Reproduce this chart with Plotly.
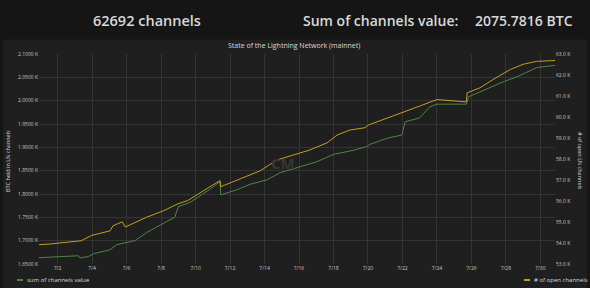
import plotly.graph_objects as go

# ---------------- data ----------------
value_dates = ["2021-06-30 22:00", "2021-07-01 13:00", "2021-07-03 05:00", "2021-07-03 07:00", "2021-07-03 19:00",
               "2021-07-04 02:00", "2021-07-05 01:00", "2021-07-05 10:00", "2021-07-06 12:00", "2021-07-07 04:00",
               "2021-07-08 03:00", "2021-07-08 19:00", "2021-07-09 00:00", "2021-07-09 16:00", "2021-07-10 20:00",
               "2021-07-11 10:00", "2021-07-11 11:00", "2021-07-12 09:00", "2021-07-13 04:00", "2021-07-14 03:00",
               "2021-07-14 22:00", "2021-07-16 01:00", "2021-07-17 01:00", "2021-07-18 00:00", "2021-07-18 23:00",
               "2021-07-19 22:00", "2021-07-20 03:00", "2021-07-20 17:00", "2021-07-21 02:00", "2021-07-21 23:00",
               "2021-07-22 04:00", "2021-07-23 00:00", "2021-07-23 14:00", "2021-07-24 00:00", "2021-07-25 17:00",
               "2021-07-25 20:00", "2021-07-26 17:00", "2021-07-27 20:00", "2021-07-28 15:00", "2021-07-29 19:00",
               "2021-07-30 20:24"]
sum_channels_value = [1663.5, 1664.9, 1667.7, 1662.8, 1666.2, 1672.0, 1680.5, 1691.2, 1700.4, 1717.5,
                      1737.6, 1750.4, 1773.1, 1781.6, 1810.2, 1826.5, 1798.1, 1808.8, 1820.9, 1830.1,
                      1845.7, 1858.5, 1869.2, 1885.0, 1892.1, 1901.3, 1906.4, 1914.1, 1919.2, 1926.3,
                      1954.7, 1963.2, 1986.7, 1992.5, 1992.5, 2008.1, 2022.4, 2040.2, 2050.9, 2070.9,
                      2075.8]

channel_dates = ["2021-06-30 22:00", "2021-07-01 13:00", "2021-07-03 09:00", "2021-07-03 23:00", "2021-07-05 01:00",
                 "2021-07-05 05:00", "2021-07-05 18:00", "2021-07-05 22:00", "2021-07-07 04:00", "2021-07-08 03:00",
                 "2021-07-08 23:00", "2021-07-09 13:00", "2021-07-10 20:00", "2021-07-11 10:00", "2021-07-11 11:00",
                 "2021-07-12 18:00", "2021-07-13 18:00", "2021-07-14 17:00", "2021-07-15 16:00", "2021-07-16 15:00",
                 "2021-07-17 15:00", "2021-07-18 05:00", "2021-07-18 23:00", "2021-07-19 20:00", "2021-07-20 00:00",
                 "2021-07-21 02:00", "2021-07-22 01:00", "2021-07-23 00:00", "2021-07-24 00:00", "2021-07-25 17:00",
                 "2021-07-25 18:00", "2021-07-26 12:00", "2021-07-27 06:00", "2021-07-28 06:00", "2021-07-29 00:00",
                 "2021-07-29 19:00", "2021-07-30 20:24"]
open_channels = [53920, 53950, 54110, 54360, 54580, 54820, 55010, 54760, 55230, 55530,
                 55860, 56020, 56680, 56970, 56680, 57110, 57440, 57950, 58190, 58430,
                 58770, 59140, 59380, 59490, 59610, 59930, 60200, 60520, 60830, 60720,
                 61150, 61390, 61780, 62260, 62510, 62650, 62692]

x_tick_vals = ["2021-07-02", "2021-07-04", "2021-07-06", "2021-07-08", "2021-07-10", "2021-07-12", "2021-07-14",
               "2021-07-16", "2021-07-18", "2021-07-20", "2021-07-22", "2021-07-24", "2021-07-26", "2021-07-28",
               "2021-07-30"]
x_tick_text = ["7/2", "7/4", "7/6", "7/8", "7/10", "7/12", "7/14", "7/16", "7/18", "7/20", "7/22", "7/24",
               "7/26", "7/28", "7/30"]
left_tick_vals = [1650, 1700, 1750, 1800, 1850, 1900, 1950, 2000, 2050, 2100]
left_tick_text = ["1.6500 K", "1.7000 K", "1.7500 K", "1.8000 K", "1.8500 K", "1.9000 K", "1.9500 K",
                  "2.0000 K", "2.0500 K", "2.1000 K"]
right_tick_vals = [53000, 54000, 55000, 56000, 57000, 58000, 59000, 60000, 61000, 62000, 63000]
right_tick_text = ["53.0 K", "54.0 K", "55.0 K", "56.0 K", "57.0 K", "58.0 K", "59.0 K", "60.0 K",
                   "61.0 K", "62.0 K", "63.0 K"]

channel_count = 62692
total_value_btc = 2075.7816

# ---------------- layout helpers ----------------
W, H = 590, 288
ML, MR, MT, MB = 39, 35, 54, 24
PW, PH = W - ML - MR, H - MT - MB


def xp(px):
    return (px - ML) / PW


def yp(py):
    return (H - MB - py) / PH


GREEN = "#4f8542"
YELLOW = "#c49e22"
TEXT = "#d8d9da"
TICK = "#c4c4c4"
FONT = "Open Sans"

fig = go.Figure()
fig.add_trace(go.Scatter(x=value_dates, y=sum_channels_value, mode="lines", name="sum of channels value",
                         line=dict(color=GREEN, width=1), yaxis="y", showlegend=False))
fig.add_trace(go.Scatter(x=channel_dates, y=open_channels, mode="lines", name="# of open channels",
                         line=dict(color=YELLOW, width=1), yaxis="y2", showlegend=False))

shapes = [
    dict(type="rect", xref="paper", yref="paper", x0=xp(3), x1=xp(587), y0=yp(H + 2), y1=yp(39.5),
         fillcolor="#1f1f20", line=dict(width=0), layer="below"),
    dict(type="line", xref="paper", yref="paper", x0=xp(17), x1=xp(23), y0=yp(280), y1=yp(280),
         line=dict(color=GREEN, width=2)),
    dict(type="line", xref="paper", yref="paper", x0=xp(524), x1=xp(530), y0=yp(280), y1=yp(280),
         line=dict(color=YELLOW, width=2)),
]

annotations = [
    dict(text=f"{channel_count} channels", x=xp(147), y=yp(21), xref="paper", yref="paper",
         showarrow=False, xanchor="center", yanchor="middle",
         font=dict(family=FONT, size=14.5, color=TEXT, weight=600)),
    dict(text="Sum of channels value:", x=xp(460), y=yp(21), xref="paper", yref="paper",
         showarrow=False, xanchor="right", yanchor="middle",
         font=dict(family=FONT, size=14, color=TEXT, weight=600)),
    dict(text=f"{total_value_btc:.4f} BTC", x=xp(575), y=yp(21), xref="paper", yref="paper",
         showarrow=False, xanchor="right", yanchor="middle",
         font=dict(family=FONT, size=14, color=TEXT, weight=600)),
    dict(text="State of the Lightning Network (mainnet)", x=xp(294), y=yp(45.5), xref="paper", yref="paper",
         showarrow=False, xanchor="center", yanchor="middle",
         font=dict(family=FONT, size=7, color=TEXT)),
    dict(text="BTC held in LN channels", x=xp(8), y=yp(161), xref="paper", yref="paper",
         showarrow=False, xanchor="center", yanchor="middle", textangle=-90,
         font=dict(family=FONT, size=5.5, color=TEXT)),
    dict(text="# of open LN channels", x=xp(580), y=yp(161), xref="paper", yref="paper",
         showarrow=False, xanchor="center", yanchor="middle", textangle=90,
         font=dict(family=FONT, size=5.5, color=TEXT)),
    dict(text="sum of channels value", x=xp(25), y=yp(280), xref="paper", yref="paper",
         showarrow=False, xanchor="left", yanchor="middle",
         font=dict(family=FONT, size=6, color=TEXT)),
    dict(text="# of open channels", x=xp(532), y=yp(280), xref="paper", yref="paper",
         showarrow=False, xanchor="left", yanchor="middle",
         font=dict(family=FONT, size=6, color=TEXT)),
    dict(text="CM", x=xp(283), y=yp(163), xref="paper", yref="paper",
         showarrow=False, xanchor="center", yanchor="middle",
         font=dict(family=FONT, size=15, color="#363637", weight=700)),
]

fig.update_layout(
    width=W, height=H,
    margin=dict(l=ML, r=MR, t=MT, b=MB, pad=0),
    paper_bgcolor="#151515",
    plot_bgcolor="rgba(0,0,0,0)",
    font=dict(family=FONT, color=TICK, size=5),
    showlegend=False,
    shapes=shapes,
    annotations=annotations,
    xaxis=dict(type="date", range=["2021-06-30 22:00", "2021-07-30 20:24"],
               tickvals=x_tick_vals, ticktext=x_tick_text, showgrid=True, gridcolor="#343436",
               gridwidth=1, zeroline=False, showline=False, ticks="",
               tickfont=dict(size=5, color=TICK)),
    yaxis=dict(range=[1650, 2100], tickvals=left_tick_vals, ticktext=left_tick_text,
               showgrid=True, gridcolor="#343436", gridwidth=1, zeroline=False, showline=False,
               ticks="", tickfont=dict(size=5, color=TICK)),
    yaxis2=dict(range=[53000, 63000], tickvals=right_tick_vals, ticktext=right_tick_text,
                overlaying="y", side="right", showgrid=False, zeroline=False, showline=False,
                ticks="", tickfont=dict(size=5, color=TICK)),
)

fig.write_html("out.html")
